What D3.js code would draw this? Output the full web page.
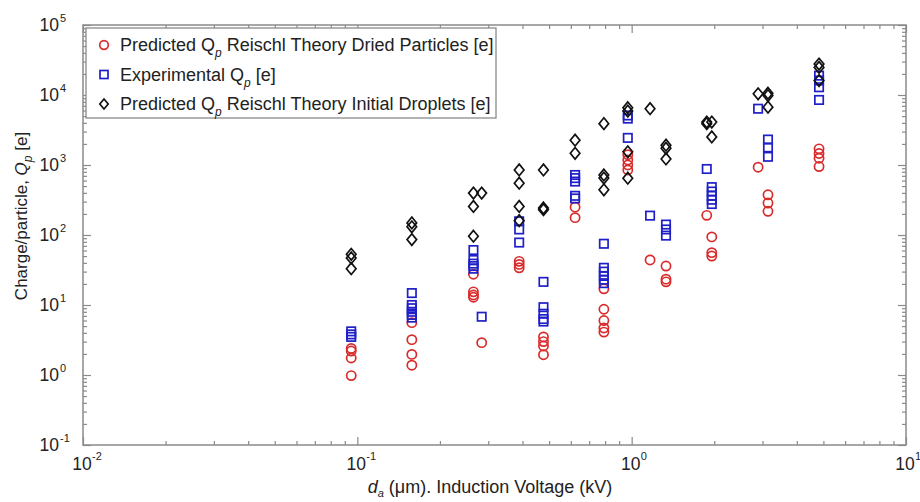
<!DOCTYPE html>
<html>
<head>
<meta charset="utf-8">
<script src="https://cdn.jsdelivr.net/npm/d3@7"></script>
<style>
  body { margin: 0; background: #fff; }
  text { font-family: "Liberation Sans", Arial, sans-serif; fill: #222; }
</style>
</head>
<body>
<div id="chart"></div>
<script>
// [x, Qp] pairs
const driedParticles = [
  [0.095, 2.4], [0.095, 2.2], [0.095, 1.75], [0.095, 0.98],
  [0.158, 5.6], [0.158, 3.2], [0.158, 1.97], [0.158, 1.38],
  [0.265, 27.5], [0.265, 15.4], [0.265, 13.9], [0.265, 12.9], [0.284, 2.9],
  [0.389, 42], [0.389, 38], [0.389, 34],
  [0.477, 3.5], [0.477, 3.0], [0.477, 2.6], [0.477, 1.95],
  [0.622, 250], [0.622, 177],
  [0.792, 17], [0.792, 8.7], [0.792, 6.0], [0.792, 4.7], [0.792, 4.1],
  [0.968, 1400], [0.968, 1180], [0.968, 1000], [0.968, 850],
  [1.167, 44],
  [1.334, 36], [1.334, 23.4], [1.334, 21.4],
  [1.878, 191],
  [1.959, 94], [1.959, 56], [1.959, 50],
  [2.89, 930],
  [3.14, 375], [3.14, 286], [3.14, 218],
  [4.82, 1700], [4.82, 1460], [4.82, 1250], [4.82, 950]
];

const experimental = [
  [0.095, 4.2], [0.095, 3.8], [0.095, 3.5],
  [0.158, 14.8], [0.158, 10], [0.158, 9.0], [0.158, 8.0], [0.158, 7.2], [0.158, 6.6],
  [0.265, 61], [0.265, 44], [0.265, 39], [0.265, 36], [0.265, 33], [0.284, 6.8],
  [0.389, 157], [0.389, 120], [0.389, 78],
  [0.477, 21.4], [0.477, 9.3], [0.477, 7.5], [0.477, 6.3], [0.477, 5.8],
  [0.622, 720], [0.622, 650], [0.622, 580], [0.622, 363], [0.622, 333],
  [0.792, 75], [0.792, 34], [0.792, 30], [0.792, 26], [0.792, 23], [0.792, 20.5],
  [0.968, 5100], [0.968, 4600], [0.968, 2440],
  [1.167, 189],
  [1.334, 141], [1.334, 120], [1.334, 98],
  [1.878, 877],
  [1.959, 483], [1.959, 418], [1.959, 363], [1.959, 319], [1.959, 277],
  [2.89, 6370],
  [3.14, 2310], [3.14, 1780], [3.14, 1310],
  [4.82, 18900], [4.82, 16100], [4.82, 12900], [4.82, 8500]
];

const initialDroplets = [
  [0.095, 53], [0.095, 47], [0.095, 33],
  [0.158, 149], [0.158, 131], [0.158, 86],
  [0.265, 397], [0.265, 256], [0.265, 96], [0.284, 397],
  [0.389, 850], [0.389, 550], [0.389, 256], [0.389, 160],
  [0.477, 850], [0.477, 243], [0.477, 230],
  [0.622, 2260], [0.622, 1470],
  [0.792, 3900], [0.792, 720], [0.792, 650], [0.792, 442],
  [0.968, 6580], [0.968, 5890], [0.968, 1545], [0.968, 648],
  [1.167, 6370],
  [1.334, 1920], [1.334, 1730], [1.334, 1220],
  [1.878, 4110], [1.878, 3900],
  [1.959, 4110], [1.959, 2520],
  [2.89, 10400],
  [3.14, 10600], [3.14, 9800], [3.14, 6710],
  [4.82, 27700], [4.82, 24800], [4.82, 16100]
];

const xDecades = [-2, -1, 0, 1];
const yDecades = [-1, 0, 1, 2, 3, 4, 5];
const legendLabels = [
  ["Predicted Q", "p", " Reischl Theory Dried Particles [e]"],
  ["Experimental Q", "p", " [e]"],
  ["Predicted Q", "p", " Reischl Theory Initial Droplets [e]"]
];

(() => {
  const width = 920;
  const height = 502;
  const mLeft = 83, mRight = 906, mTop = 25, mBottom = 445;

  const svg = d3
    .select("#chart")
    .append("svg")
    .attr("width", width)
    .attr("height", height);

  const x = d3.scaleLog().domain([0.01, 10]).range([mLeft, mRight]);
  const y = d3.scaleLog().domain([0.1, 1e5]).range([mBottom, mTop]);

  // minor ticks 2..9 in each decade
  const minorOf = (decades) => {
    const out = [];
    decades.slice(0, -1).forEach((e) => {
      for (let k = 2; k <= 9; k++) out.push(k * Math.pow(10, e));
    });
    return out;
  };
  const xMajor = xDecades.map((e) => Math.pow(10, e));
  const yMajor = yDecades.map((e) => Math.pow(10, e));

  const tickColor = "#8a8a8a";

  function styleAxis(g) {
    g.select(".domain").remove();
    g.selectAll(".tick line").attr("stroke", tickColor).attr("stroke-width", 1.2);
  }

  // bottom / top
  [
    [d3.axisBottom, mBottom],
    [d3.axisTop, mTop]
  ].forEach(([axisFn, pos]) => {
    svg.append("g").attr("transform", `translate(0,${pos})`)
      .call(axisFn(x).tickValues(xMajor).tickSize(-8).tickFormat(""))
      .call(styleAxis);
    svg.append("g").attr("transform", `translate(0,${pos})`)
      .call(axisFn(x).tickValues(minorOf(xDecades)).tickSize(-4).tickFormat(""))
      .call(styleAxis);
  });

  // left / right
  [
    [d3.axisLeft, mLeft],
    [d3.axisRight, mRight]
  ].forEach(([axisFn, pos]) => {
    svg.append("g").attr("transform", `translate(${pos},0)`)
      .call(axisFn(y).tickValues(yMajor).tickSize(-8).tickFormat(""))
      .call(styleAxis);
    svg.append("g").attr("transform", `translate(${pos},0)`)
      .call(axisFn(y).tickValues(minorOf(yDecades)).tickSize(-4).tickFormat(""))
      .call(styleAxis);
  });

  // frame
  svg.append("rect")
    .attr("x", mLeft).attr("y", mTop)
    .attr("width", mRight - mLeft).attr("height", mBottom - mTop)
    .attr("fill", "none")
    .attr("stroke", tickColor)
    .attr("stroke-width", 1.5);

  // power-of-ten labels
  xDecades.forEach((e) => {
    const px = x(Math.pow(10, e));
    svg.append("text")
      .attr("x", px - 1).attr("y", mBottom + 25)
      .attr("text-anchor", "middle")
      .style("font-size", "17.5px")
      .text("10");
    svg.append("text")
      .attr("x", px + 9).attr("y", mBottom + 15)
      .style("font-size", "11px")
      .text(e);
  });

  yDecades.forEach((e) => {
    const py = y(Math.pow(10, e));
    svg.append("text")
      .attr("x", 59).attr("y", py + 6)
      .attr("text-anchor", "end")
      .style("font-size", "17.5px")
      .text("10");
    svg.append("text")
      .attr("x", 60).attr("y", py - 3)
      .style("font-size", "11px")
      .text(e);
  });

  // axis titles
  const xt = svg.append("text")
    .attr("x", 490).attr("y", 493)
    .attr("text-anchor", "middle")
    .style("font-size", "18px");
  xt.append("tspan").style("font-style", "italic").text("d");
  xt.append("tspan").attr("dy", 4).style("font-size", "11px").style("font-style", "italic").text("a");
  xt.append("tspan").attr("dy", -4).text(" (\u03bcm). Induction Voltage (kV)");

  const yt = svg.append("text")
    .attr("transform", "translate(27,216) rotate(-90)")
    .attr("text-anchor", "middle")
    .style("font-size", "17px");
  yt.append("tspan").text("Charge/particle, ");
  yt.append("tspan").style("font-style", "italic").text("Q");
  yt.append("tspan").attr("dy", 5).style("font-size", "12px").style("font-style", "italic").text("p");
  yt.append("tspan").attr("dy", -5).text(" [e]");

  // markers
  const red = "#d92b2b", blue = "#1f1fc8", black = "#111";

  svg.append("g").selectAll("circle")
    .data(driedParticles)
    .join("circle")
    .attr("cx", (d) => x(d[0]))
    .attr("cy", (d) => y(d[1]))
    .attr("r", 4.6)
    .attr("fill", "none")
    .attr("stroke", red)
    .attr("stroke-width", 1.7);

  svg.append("g").selectAll("rect")
    .data(experimental)
    .join("rect")
    .attr("x", (d) => x(d[0]) - 4.2)
    .attr("y", (d) => y(d[1]) - 4.2)
    .attr("width", 8.4)
    .attr("height", 8.4)
    .attr("fill", "none")
    .attr("stroke", blue)
    .attr("stroke-width", 1.7);

  const diamond = "M0,-5.8L4.8,0L0,5.8L-4.8,0Z";
  svg.append("g").selectAll("path")
    .data(initialDroplets)
    .join("path")
    .attr("transform", (d) => `translate(${x(d[0])},${y(d[1])})`)
    .attr("d", diamond)
    .attr("fill", "none")
    .attr("stroke", black)
    .attr("stroke-width", 1.7);

  // legend
  const lg = svg.append("g");
  lg.append("rect")
    .attr("x", 86).attr("y", 28)
    .attr("width", 410).attr("height", 90)
    .attr("fill", "#fff")
    .attr("stroke", tickColor)
    .attr("stroke-width", 1.3);

  legendLabels.forEach((parts, i) => {
    const cy = 45 + i * 29.5;
    if (i === 0) {
      lg.append("circle").attr("cx", 104).attr("cy", cy).attr("r", 4.3)
        .attr("fill", "none").attr("stroke", red).attr("stroke-width", 1.7);
    } else if (i === 1) {
      lg.append("rect").attr("x", 100).attr("y", cy - 4).attr("width", 8).attr("height", 8)
        .attr("fill", "none").attr("stroke", blue).attr("stroke-width", 1.7);
    } else {
      lg.append("path").attr("transform", `translate(104,${cy})`).attr("d", "M0,-5L4.2,0L0,5L-4.2,0Z")
        .attr("fill", "none").attr("stroke", black).attr("stroke-width", 1.7);
    }
    const t = lg.append("text")
      .attr("x", 120).attr("y", cy + 6)
      .style("font-size", "18px");
    t.append("tspan").text(parts[0]);
    t.append("tspan").attr("dy", 6).style("font-size", "12px").style("font-style", "italic").text(parts[1]);
    t.append("tspan").attr("dy", -6).text(parts[2]);
  });
})();
</script>
</body>
</html>
